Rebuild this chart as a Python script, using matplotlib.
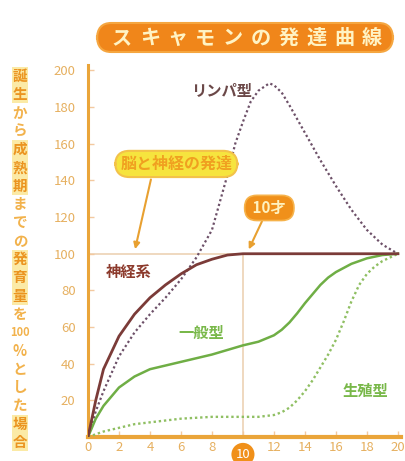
import matplotlib.pyplot as plt
from matplotlib.patches import FancyBboxPatch

plt.rcParams['font.family'] = ['Noto Sans CJK JP', 'DejaVu Sans']

# データ（年齢と発育量%）
age_neural = [0, 0.5, 1, 2, 3, 4, 5, 6, 7, 8, 9, 10, 12, 14, 16, 18, 20]
neural = [0, 20, 37, 55, 67, 76, 83, 89, 94, 97, 99.3, 100, 100, 100, 100, 100, 100]

age_lymph = [0, 0.5, 1, 2, 3, 4, 5, 6, 7, 8, 8.5, 9, 9.5, 10, 10.5, 11, 11.7, 12, 12.5, 13, 14, 15, 16, 17, 18, 19, 20]
lymph = [0, 14, 25, 44, 57, 67, 76, 86, 98, 113, 128, 143, 160, 172, 183, 189, 193, 192, 188, 181, 166, 151, 137, 124, 113, 105, 100]

age_general = [0, 0.5, 1, 2, 3, 4, 6, 8, 10, 11, 12, 12.5, 13, 13.5, 14, 14.5, 15, 15.5, 16, 17, 18, 19, 20]
general = [0, 10, 17, 27, 33, 37, 41, 45, 50, 52, 55.5, 58.5, 62.5, 67.5, 73, 78, 83, 87, 90, 94.5, 97.5, 99.3, 100]

age_repro = [0, 0.5, 1, 2, 3, 4, 5, 6, 8, 10, 11, 12, 12.5, 13, 13.5, 14, 14.5, 15, 15.5, 16, 16.5, 17, 17.5, 18, 18.5, 19, 20]
repro = [0, 1.5, 3, 5, 7, 8, 9, 10, 11, 11, 11, 12, 13.5, 16, 20, 25, 31, 38, 45, 53, 63, 74, 83, 89, 93, 96, 100]

x_ticks = [0, 2, 4, 6, 8, 10, 12, 14, 16, 18, 20]
y_ticks = [20, 40, 60, 80, 100, 120, 140, 160, 180, 200]

title_chars = ['ス', 'キ', 'ャ', 'モ', 'ン', 'の', '発', '達', '曲', '線']
ylabel_chars = ['誕', '生', 'か', 'ら', '成', '熟', '期', 'ま', 'で', 'の', '発', '育', '量',
                'を', '100', '%', 'と', 'し', 'た', '場', '合']

orange = '#f0901a'
axis_col = '#eaa53a'
tick_col = '#e6b060'

fig = plt.figure(figsize=(4.05, 4.61), dpi=100)
ax = fig.add_axes([88 / 405, 1 - 437 / 461, 313 / 405, 372 / 461])
ax.set_xlim(0, 20.2)
ax.set_ylim(0, 203)

# 補助線
ax.plot([0, 20], [100, 100], color='#ecd2b4', lw=1.2, zorder=1)
ax.plot([10, 10], [0, 100], color='#ecd2b4', lw=1.2, zorder=1)

# 曲線
ax.plot(age_lymph, lymph, color='#6d5068', lw=1.6, ls=(0, (1, 1.2)), zorder=3)
ax.plot(age_repro, repro, color='#8fbf62', lw=1.7, ls=(0, (1, 1.2)), zorder=3)
ax.plot(age_general, general, color='#6fae45', lw=1.8, zorder=3, solid_joinstyle='round')
ax.plot(age_neural, neural, color='#7b3b38', lw=2.0, zorder=4, solid_joinstyle='round')

# 軸
for s in ['top', 'right']:
    ax.spines[s].set_visible(False)
ax.spines['left'].set_color(axis_col)
ax.spines['left'].set_linewidth(2.2)
ax.spines['bottom'].set_color(axis_col)
ax.spines['bottom'].set_linewidth(3)
ax.set_xticks(x_ticks)
ax.set_yticks(y_ticks)
ax.set_xticklabels([str(t) if t != 10 else '' for t in x_ticks])
ax.tick_params(axis='both', direction='in', length=4, width=1, color='#f3c9a0',
               labelcolor=tick_col, labelsize=9.5)
ax.tick_params(axis='y', pad=9)
ax.tick_params(axis='x', pad=3)
ax.text(10, -9.5, '10', ha='center', va='center', color='white', fontsize=9.5,
        bbox=dict(boxstyle='circle,pad=0.32', fc=orange, ec='none'), clip_on=False)

# 曲線ラベル
ax.text(8.6, 189, 'リンパ型', ha='center', va='center', fontsize=11, fontweight='bold',
        color='#6b4848')
ax.text(2.6, 90, '神経系', ha='center', va='center', fontsize=11, fontweight='bold',
        color='#8c3a2c')
ax.text(7.3, 57, '一般型', ha='center', va='center', fontsize=11, fontweight='bold',
        color='#79b84a')
ax.text(17.9, 25, '生殖型', ha='center', va='center', fontsize=11, fontweight='bold',
        color='#79b84a')

# 注釈
ax.annotate('', xy=(3.0, 101), xytext=(4.1, 142),
            arrowprops=dict(arrowstyle='-|>', color='#e8a030', lw=1.5, mutation_scale=9))
ax.text(5.7, 149, '脳と神経の発達', ha='center', va='center', fontsize=11.5,
        fontweight='bold', color='#f0a020',
        bbox=dict(boxstyle='round,pad=0.32,rounding_size=0.9', fc='#f6e43e', ec='#f3c24a', lw=1.5))
ax.annotate('', xy=(10.3, 101), xytext=(11.3, 119),
            arrowprops=dict(arrowstyle='-|>', color='#e8a030', lw=1.5, mutation_scale=9))
ax.text(11.7, 125, ' 10才 ', ha='center', va='center', fontsize=11,
        fontweight='bold', color='#fff2c0',
        bbox=dict(boxstyle='round,pad=0.3,rounding_size=0.8', fc=orange, ec='#f6b24a', lw=1.2))

# タイトル（字間を広げた帯）
fig.patches.append(FancyBboxPatch((97 / 405, 1 - 52 / 461), 296 / 405, 29 / 461,
                                  boxstyle='round,pad=0,rounding_size=0.035',
                                  transform=fig.transFigure, fc='#f0861a', ec='#f5a640',
                                  lw=1.5, zorder=0))
for i, ch in enumerate(title_chars):
    fig.text((122 + i * 27.8) / 405, 1 - 37.5 / 461, ch, ha='center', va='center',
             fontsize=14.5, fontweight='bold', color='#fff3c4')

# 縦書きの軸ラベル
top_px, step_px = 76, 18.3
for i, ch in enumerate(ylabel_chars):
    y = 1 - (top_px + i * step_px) / 461
    kana = ch in ['か', 'ら', 'ま', 'で', 'の', 'を', '100', '%', 'と', 'し', 'た']
    fig.text(20 / 405, y, ch, ha='center', va='center',
             fontsize=8 if ch == '100' else 10.5, fontweight='bold',
             color='#f2b24c' if kana else '#eb9420',
             bbox=None if kana else dict(boxstyle='square,pad=0.08', fc='#fbeaa6', ec='none'))

fig.savefig('out.png', dpi=100)
